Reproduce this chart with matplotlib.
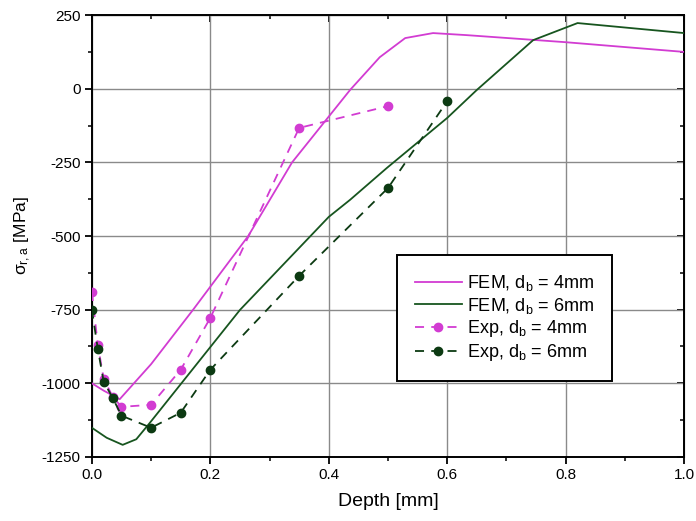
import matplotlib
matplotlib.use('Agg')
import matplotlib.pyplot as plt
from matplotlib.ticker import MultipleLocator

plt.rcParams['font.family'] = ['Liberation Sans', 'DejaVu Sans']
plt.rcParams['axes.unicode_minus'] = False

# FEM curves
fem4_x = [0.0, 0.02, 0.047, 0.10, 0.171, 0.264, 0.338, 0.436, 0.486, 0.529, 0.576, 0.633, 0.80, 1.0]
fem4_y = [-1000, -1025, -1054, -935, -750, -500, -250, -4, 107, 172, 189, 182, 158, 125]

fem6_x = [0.0, 0.025, 0.052, 0.075, 0.098, 0.25, 0.40, 0.436, 0.498, 0.60, 0.65, 0.745, 0.82, 1.0]
fem6_y = [-1151, -1185, -1209, -1190, -1134, -751, -435, -377, -269, -99, -4, 165, 223, 189]

# experimental points
exp4_x = [0.0, 0.01, 0.02, 0.035, 0.05, 0.1, 0.15, 0.2, 0.35, 0.5]
exp4_y = [-690, -870, -985, -1045, -1080, -1073, -954, -778, -133, -59]

exp6_x = [0.0, 0.01, 0.02, 0.035, 0.05, 0.1, 0.15, 0.2, 0.35, 0.5, 0.6]
exp6_y = [-750, -883, -995, -1049, -1110, -1151, -1100, -954, -635, -337, -42]

magenta = '#d23cd2'
green = '#17551f'
dark_green = '#0c3a12'

fig = plt.figure(figsize=(6.96, 5.21), dpi=100)
ax = fig.add_axes([0.132, 0.123, 0.851, 0.848])

ax.plot(fem4_x, fem4_y, color=magenta, lw=1.3, label='FEM, d$_\\mathregular{b}$ = 4mm', zorder=3)
ax.plot(fem6_x, fem6_y, color=green, lw=1.3, label='FEM, d$_\\mathregular{b}$ = 6mm', zorder=3)
ax.plot(exp4_x, exp4_y, color=magenta, ls=(0, (5, 4)), lw=1.3, marker='o', ms=6,
        label='Exp, d$_\\mathregular{b}$ = 4mm', zorder=4)
ax.plot(exp6_x, exp6_y, color=dark_green, ls=(0, (5, 4)), lw=1.3, marker='o', ms=6,
        label='Exp, d$_\\mathregular{b}$ = 6mm', zorder=5)

ax.set_xlim(0, 1.0)
ax.set_ylim(-1250, 250)
ax.xaxis.set_major_locator(MultipleLocator(0.2))
ax.xaxis.set_minor_locator(MultipleLocator(0.1))
ax.yaxis.set_major_locator(MultipleLocator(250))
ax.yaxis.set_minor_locator(MultipleLocator(125))
ax.set_xticks([0, 0.2, 0.4, 0.6, 0.8, 1.0])
ax.set_xticklabels(['0.0', '0.2', '0.4', '0.6', '0.8', '1.0'])

ax.grid(True, which='major', color='#8a8a8a', lw=1.0, zorder=0)
ax.tick_params(which='major', direction='out', length=5, width=1.3, labelsize=11, pad=3)
ax.tick_params(which='minor', direction='out', length=3, width=1.1)
for s in ax.spines.values():
    s.set_linewidth(1.4)

top = ax.secondary_xaxis('top')
top.xaxis.set_major_locator(MultipleLocator(0.2))
top.xaxis.set_minor_locator(MultipleLocator(0.1))
top.tick_params(which='major', direction='in', length=5, width=1.3, labeltop=False)
top.tick_params(which='minor', direction='in', length=3, width=1.1)
right = ax.secondary_yaxis('right')
right.yaxis.set_major_locator(MultipleLocator(250))
right.yaxis.set_minor_locator(MultipleLocator(125))
right.tick_params(which='major', direction='in', length=5, width=1.3, labelright=False)
right.tick_params(which='minor', direction='in', length=3, width=1.1)

ax.set_xlabel('Depth [mm]', fontsize=14, labelpad=8)
ax.set_ylabel('$\\mathregular{\\sigma_{r,a}}$ [MPa]', fontsize=12.5, labelpad=6)

leg = ax.legend(loc='upper left', bbox_to_anchor=(0.515, 0.457), borderaxespad=0,
                fontsize=13, frameon=True, fancybox=False, framealpha=1,
                edgecolor='black', handlelength=2.6, borderpad=1.0,
                labelspacing=0.15, handletextpad=0.3)
leg.get_frame().set_linewidth(1.4)

fig.savefig('out.png', dpi=100, facecolor='white')
